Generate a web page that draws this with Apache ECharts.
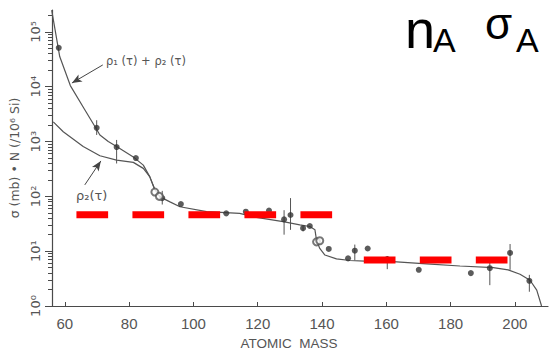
<!DOCTYPE html>
<html><head><meta charset="utf-8">
<script src="https://cdn.jsdelivr.net/npm/echarts@6/dist/echarts.min.js"></script>
<style>html,body{margin:0;padding:0;background:#fff}#c{width:549px;height:352px}</style>
</head><body><div id="c"></div>
<script>
// ---- data ----
const xTickValues = [60, 80, 100, 120, 140, 160, 180, 200];
const yMinorValues = [2,3,4,5,6,7,8,9,20,30,40,50,60,70,80,90,200,300,400,500,600,700,800,900,
  2000,3000,4000,5000,6000,7000,8000,9000,20000,30000,40000,50000,60000,70000,80000,90000,200000];
// rho1(tau)+rho2(tau) curve (and common tail)
const curveSum = [[55.9,250000],[58.4,35500],[61.7,10500],[66.2,3800],[69.3,1900],[70.9,1320],[73.5,1000],
  [76.1,813],[81.3,525],[84.4,372],[86.4,229],[88.0,132],[89.6,98],[92.7,79.4],[95.8,64.6],[104.1,52.5],
  [114.4,49],[119.1,41.7],[127.9,34.7],[133.1,30.2],[136.2,28.2],[137.8,24.5],[138.3,15.8],[139.3,11.2],
  [140.9,8.5],[144.5,7.24],[148.7,6.76],[153.3,6.6],[162.1,6.46],[172.5,5.89],[182.9,5.37],[193.3,5.01],
  [197.9,4.57],[201.6,3.8],[204.7,2.95],[206.8,1.95],[208.3,1.0]];
// rho2(tau) curve
const curveP2 = [[56.4,2290],[59.5,1510],[65.7,813],[70.9,550],[76.1,457],[81.3,417],[84.4,324],[86.4,229],[88.0,132]];
// measured abundances x sigma (filled)
const pointsFilled = [[58.1,51300],[69.9,1780],[76.1,794],[82.1,500],[90.3,93],[96.1,72.4],[110.2,49],
  [116.3,52.5],[123.5,55],[128.2,38],[130.2,45.7],[134.1,26.3],[136.2,28.8],[142.1,11],[148.1,7.4],
  [150.2,10.2],[154.2,11.2],[160.3,7.2],[170.1,4.57],[186.3,3.98],[192.2,4.9],[198.5,9.3],[204.5,2.88]];
// open symbols
const pointsOpen = [[88.0,120],[89.4,100],[138.3,14.8],[139.3,15.5]];
// error bars: [x, low, high]
const errorBars = [[69.9,1320,2450],[76.1,398,1070],[90.3,71,126],[128.2,20,56],[130.2,24.5,93],
  [134.1,23,30],[150.2,6.8,13.2],[160.3,4.7,8.1],[192.2,2.4,6.46],[198.5,4.57,13.5],[204.5,1.82,3.7]];
// red dashed levels
const levelHigh = [[63.6,46.4],[143.2,46.4]];
const levelLow = [[153.0,6.9],[197.7,6.9]];

const sup = {'0':'⁰','1':'¹','2':'²','3':'³','4':'⁴','5':'⁵','6':'⁶'};
const chart = echarts.init(document.getElementById('c'), null, {renderer:'svg'});
const ink = '#4a4a4a';
chart.setOption({
  animation:false,
  grid:{left:52,right:1,top:10,bottom:46,outerBoundsMode:'none'},
  xAxis:{type:'value',min:56,max:210.3,
    axisLine:{lineStyle:{color:ink,width:1.2}},
    axisTick:{inside:true,length:4,customValues:xTickValues,lineStyle:{color:ink}},
    axisLabel:{customValues:xTickValues,margin:10,color:'#555',fontFamily:'Liberation Sans',fontSize:15},
    splitLine:{show:false},
    name:'ATOMIC  MASS',nameLocation:'middle',nameGap:30,
    nameTextStyle:{color:'#555',fontFamily:'Liberation Sans',fontSize:13.5,padding:[0,22,0,0]}
  },
  yAxis:[{type:'log',logBase:10,min:1,max:Math.pow(10,5.4),
    axisLine:{lineStyle:{color:ink,width:1.2}},
    axisTick:{length:7,lineStyle:{color:ink}},
    axisLabel:{rotate:90,margin:10,color:'#555',fontFamily:'DejaVu Sans',fontSize:13,showMaxLabel:false,
      formatter:v=>{const e=Math.round(Math.log10(v));return '10'+(sup[String(e)]||'');}},
    splitLine:{show:false},
    name:'σ (mb) • N (/10⁶ Si)',nameLocation:'middle',nameRotate:90,nameGap:30,
    nameTextStyle:{color:'#555',fontFamily:'DejaVu Sans',fontSize:12.5}
  },{type:'value',min:0,max:5.4,position:'left',
    axisLine:{show:false},axisLabel:{show:false},splitLine:{show:false},
    axisTick:{length:4,customValues:yMinorValues.map(Math.log10),lineStyle:{color:ink}}
  }],
  graphic:[
    {type:'text',left:106,top:55,style:{text:'ρ₁ (τ) + ρ₂ (τ)',font:'11.5px DejaVu Sans',fill:'#555'}},
    {type:'text',left:76,top:189,style:{text:'ρ₂(τ)',font:'13px DejaVu Sans',fill:'#555'}},
    {type:'text',left:405,top:2,style:{text:'n',font:'54px Liberation Sans',lineHeight:30,fill:'#000'}},
    {type:'text',left:433,top:23,style:{text:'A',font:'34px Liberation Sans',fill:'#000'}},
    {type:'text',left:485,top:1,style:{text:'σ',font:'44px Liberation Sans',lineHeight:44,fill:'#000'}},
    {type:'text',left:516,top:23,style:{text:'A',font:'34px Liberation Sans',fill:'#000'}}
  ],
  series:[
    {type:'custom',name:'err',data:errorBars,encode:{x:0,y:[1,2]},z:2,
      renderItem:(p,api)=>{const a=api.coord([api.value(0),api.value(1)]);const b=api.coord([api.value(0),api.value(2)]);
        return {type:'line',shape:{x1:a[0],y1:a[1],x2:b[0],y2:b[1]},style:{stroke:'#555',lineWidth:1}};}},
    {type:'line',name:'sum',data:curveSum,symbol:'none',z:3,lineStyle:{color:'#555',width:1.2},
      markLine:{silent:true,symbol:['none','arrow'],symbolSize:[6,10],lineStyle:{color:'#444',width:1,type:'solid'},label:{show:false},
        data:[[{coord:[71.8,25000]},{coord:[62.2,11700]}],[{coord:[66.2,162]},{coord:[71.2,443]}]]}},
    {type:'line',name:'p2',data:curveP2,symbol:'none',z:3,lineStyle:{color:'#555',width:1.2}},
    {type:'scatter',data:pointsFilled,symbol:'circle',symbolSize:6,z:4,itemStyle:{color:'#333'}},
    {type:'scatter',data:pointsOpen,symbol:'emptyCircle',symbolSize:7,z:4,itemStyle:{color:'#555',borderWidth:1}},
    {type:'line',data:levelHigh,symbol:'none',z:6,lineStyle:{color:'#ff0000',width:7,cap:'butt',type:[31.7,24.3]}},
    {type:'line',data:levelLow,symbol:'none',z:6,lineStyle:{color:'#ff0000',width:7,cap:'butt',type:[31.7,24.3]}}
  ]
});
</script></body></html>
